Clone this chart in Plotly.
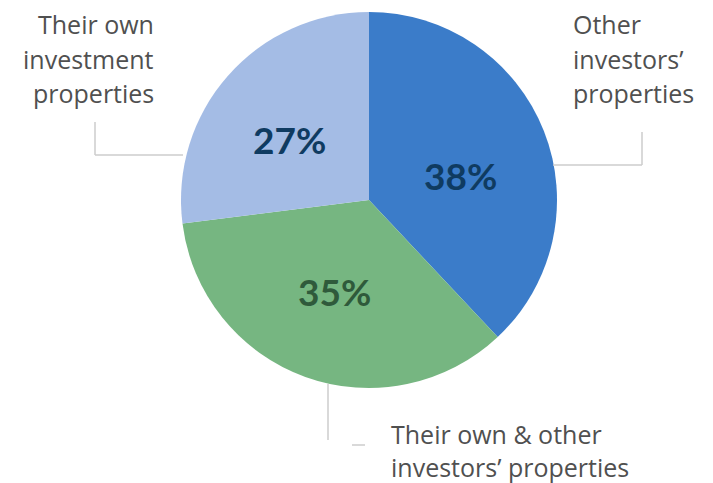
import plotly.graph_objects as go

W, H = 713, 483

categories = ["Other investors’ properties",
              "Their own & other investors’ properties",
              "Their own investment properties"]
values = [38, 35, 27]
slice_colors = ["#3b7cc9", "#76b681", "#a4bce5"]
pct_colors = ["#0f3b61", "#2f5a3b", "#0f3b61"]

# label lines of text (outside labels)
label_lines = [["Other", "investors’", "properties"],
               ["Their own & other", "investors’ properties"],
               ["Their own", "investment", "properties"]]

def px(x):
    return x / W

def py(y):
    return 1 - y / H

fig = go.Figure(go.Pie(
    labels=categories,
    values=values,
    sort=False,
    direction="clockwise",
    rotation=0,
    marker=dict(colors=slice_colors, line=dict(width=0)),
    textinfo="none",
    hoverinfo="label+percent",
    domain=dict(x=[px(181), px(557)], y=[py(388), py(12)]),
    showlegend=False,
))

LABEL_FONT = "Open Sans"
PCT_FONT = "Lato"
annotations = []

# percentage labels
pct_pos = [(460, 175), (334, 291), (289, 139)]
total = sum(values)
for v, c, (x, y) in zip(values, pct_colors, pct_pos):
    annotations.append(dict(
        x=px(x), y=py(y), xref="paper", yref="paper",
        text=f"<b>{round(100 * v / total)}%</b>", showarrow=False,
        xanchor="center", yanchor="middle",
        font=dict(family=PCT_FONT, size=37, color=c)))

# outside labels
label_gray = "#505050"
LS = 25
# right: Other investors' properties (left aligned)
for i, t in enumerate(label_lines[0]):
    annotations.append(dict(x=px(571), y=py(24 + 34.5 * i), xref="paper", yref="paper",
                            text=t, showarrow=False, xanchor="left", yanchor="middle",
                            font=dict(family=LABEL_FONT, size=LS, color=label_gray)))
# bottom
for i, t in enumerate(label_lines[1]):
    annotations.append(dict(x=px(389), y=py(434 + 33 * i), xref="paper", yref="paper",
                            text=t, showarrow=False, xanchor="left", yanchor="middle",
                            font=dict(family=LABEL_FONT, size=LS, color=label_gray)))
# left (right aligned)
for i, t in enumerate(label_lines[2]):
    annotations.append(dict(x=px(156), y=py(24 + 34.5 * i), xref="paper", yref="paper",
                            text=t, showarrow=False, xanchor="right", yanchor="middle",
                            font=dict(family=LABEL_FONT, size=LS, color=label_gray)))

line_style = dict(color="#cccccc", width=1.5)
segments = [
    # left leader
    (95, 122, 95, 155), (95, 155, 183, 155),
    # right leader
    (642, 132, 642, 165), (553, 165, 642, 165),
    # bottom leader
    (328, 384, 328, 440), (352, 445, 365, 445),
]
shapes = [dict(type="line", xref="paper", yref="paper",
               x0=px(a), y0=py(b), x1=px(c), y1=py(d), line=line_style)
          for a, b, c, d in segments]

fig.update_layout(
    width=W, height=H,
    margin=dict(l=0, r=0, t=0, b=0),
    paper_bgcolor="white", plot_bgcolor="white",
    annotations=annotations,
    shapes=shapes,
)

fig.write_html("out.html", config={"displayModeBar": False},
               post_script="document.body.style.margin='0';document.body.style.overflow='hidden';")
